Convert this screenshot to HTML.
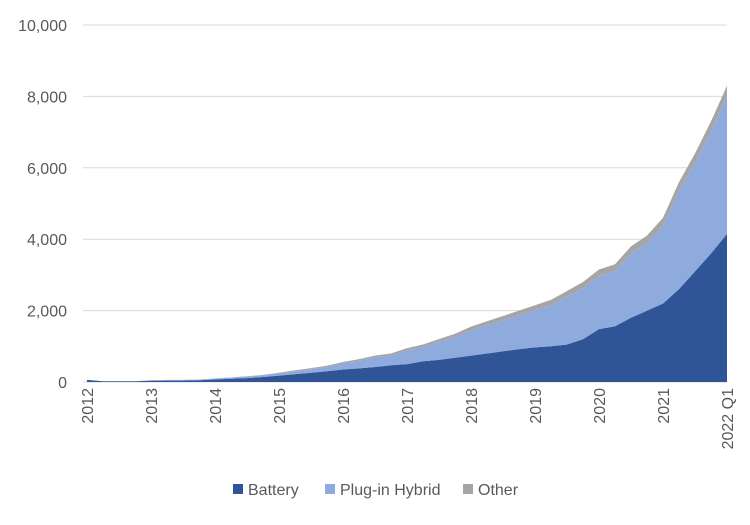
<!DOCTYPE html>
<html><head><meta charset="utf-8"><style>
body{margin:0;background:#fff;}
svg text{font-family:"Liberation Sans",sans-serif;fill:#595959;}
</style></head><body>
<svg id="c" width="750" height="520" xmlns="http://www.w3.org/2000/svg"></svg>
<script>
const categories = ["2012","","","","2013","","","","2014","","","","2015","","","","2016","","","","2017","","","","2018","","","","2019","","","","2020","","","","2021","","","","2022 Q1"];
const battery = [60,20,20,20, 40,40,40,50, 70,90,110,140, 180,220,260,300, 350,380,420,470, 500,580,620,680, 740,800,860,920, 970,1000,1050,1200, 1480,1560,1800,2000, 2200,2600,3100,3600, 4150];
const phev = [0,0,0,0, 10,15,15,15, 25,30,40,45, 60,85,100,125, 170,215,270,275, 390,400,500,580, 710,790,870,950, 1040,1150,1340,1430, 1490,1550,1800,1890, 2180,2760,3040,3420, 3850];
const other = [0,0,0,0, 0,5,5,5, 5,10,10,15, 20,25,30,35, 40,45,50,55, 60,70,80,90, 100,110,120,130, 140,150,160,170, 180,190,200,210, 220,240,260,280, 300];
const yTicks = [0,2000,4000,6000,8000,10000];
const seriesNames = ["Battery","Plug-in Hybrid","Other"];
const colors = ["#2f5597","#8faadc","#a5a5a5"];

const svg = document.getElementById('c');
const NS = "http://www.w3.org/2000/svg";
const x0=87, x1=727, y0=382, y1=25;
const xs = i => x0 + (x1-x0)*i/(categories.length-1);
const ys = v => y0 - (y0-y1)*v/10000;
function mk(t,a){const e=document.createElementNS(NS,t);for(const k in a)e.setAttribute(k,a[k]);svg.appendChild(e);return e;}

yTicks.forEach(v=>{
  const l=mk('line',{x1:83,x2:727,y1:ys(v),y2:ys(v),stroke:'#d9d9d9','stroke-width':1});
  
  
  const t=mk('text',{x:67,y:ys(v)+6,'text-anchor':'end','font-size':16});
  t.textContent=v.toLocaleString('en-US');
  
  
});

const series=[battery,phev,other];
let base=battery.map(()=>0);
series.forEach((s,k)=>{
  const top=s.map((v,i)=>base[i]+v);
  let d='M'+xs(0)+','+ys(top[0]);
  for(let i=1;i<top.length;i++) d+=' L'+xs(i)+','+ys(top[i]);
  for(let i=top.length-1;i>=0;i--) d+=' L'+xs(i)+','+ys(base[i]);
  d+=' Z';
  const p=mk('path',{d:d,fill:colors[k]});
  
  
  base=top;
});

categories.forEach((c,i)=>{
  if(!c) return;
  const x=xs(i)+6, y=388;
  const t=mk('text',{x:x,y:y,'text-anchor':'end','font-size':16,transform:`rotate(-90 ${x} ${y})`});
  t.textContent=c;
  
  
});

const legX=[233,325,463];
seriesNames.forEach((n,k)=>{
  const r=mk('rect',{x:legX[k],y:484,width:10,height:10,fill:colors[k]});
  
  
  const t=mk('text',{x:legX[k]+15,y:495,'font-size':16});
  t.textContent=n;
  
  
});
</script>
</body></html>
